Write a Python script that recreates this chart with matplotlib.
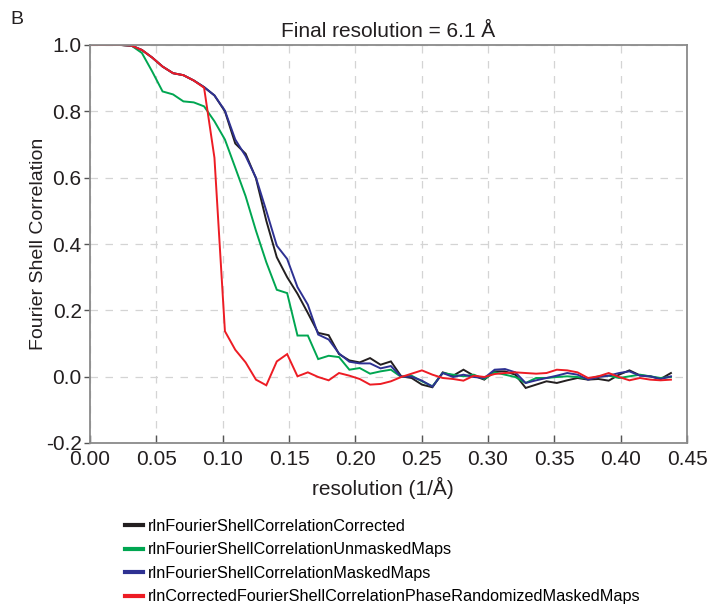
import matplotlib
matplotlib.use("Agg")
import matplotlib.pyplot as plt
from matplotlib.lines import Line2D

plt.rcParams['font.family'] = ['Liberation Sans', 'DejaVu Sans']

resolution = [0.0000, 0.0078, 0.0156, 0.0235, 0.0313, 0.0391, 0.0469, 0.0547,
              0.0626, 0.0704, 0.0782, 0.0860, 0.0938, 0.1017, 0.1095, 0.1173,
              0.1251, 0.1329, 0.1408, 0.1486, 0.1564, 0.1642, 0.1720, 0.1799,
              0.1877, 0.1955, 0.2033, 0.2111, 0.2190, 0.2268, 0.2346, 0.2424,
              0.2502, 0.2581, 0.2659, 0.2737, 0.2815, 0.2893, 0.2972, 0.3050,
              0.3128, 0.3206, 0.3284, 0.3363, 0.3441, 0.3519, 0.3597, 0.3675,
              0.3754, 0.3832, 0.3910, 0.3988, 0.4066, 0.4145, 0.4223, 0.4301,
              0.4379]

fsc_corrected = [1.000, 1.000, 1.000, 1.000, 0.998, 0.985, 0.962, 0.935,
                 0.915, 0.909, 0.893, 0.873, 0.848, 0.800, 0.703, 0.672,
                 0.598, 0.470, 0.360, 0.300, 0.250, 0.192, 0.132, 0.125,
                 0.068, 0.049, 0.043, 0.056, 0.036, 0.046, 0.001, -0.004,
                 -0.024, -0.032, 0.013, 0.003, 0.021, 0.003, -0.009, 0.016,
                 0.016, 0.006, -0.034, -0.024, -0.014, -0.019, -0.011, -0.004,
                 -0.009, -0.007, -0.012, 0.006, 0.019, 0.004, 0.001, -0.007,
                 0.011]

fsc_unmasked = [1.000, 1.000, 1.000, 1.000, 0.998, 0.976, 0.920, 0.860,
                0.851, 0.830, 0.827, 0.815, 0.770, 0.715, 0.630, 0.544,
                0.440, 0.345, 0.262, 0.252, 0.124, 0.124, 0.053, 0.063,
                0.059, 0.021, 0.026, 0.009, 0.016, 0.021, -0.001, 0.003,
                -0.014, -0.029, 0.011, 0.006, 0.001, 0.006, -0.007, 0.013,
                0.006, -0.001, -0.019, -0.004, -0.004, -0.001, 0.001, -0.001,
                -0.007, 0.001, 0.003, -0.004, 0.001, 0.006, 0.001, -0.004,
                -0.001]

fsc_masked = [1.000, 1.000, 1.000, 1.000, 0.998, 0.985, 0.962, 0.935,
              0.915, 0.909, 0.893, 0.873, 0.848, 0.802, 0.715, 0.665,
              0.600, 0.500, 0.395, 0.355, 0.270, 0.217, 0.127, 0.112,
              0.070, 0.045, 0.040, 0.040, 0.025, 0.032, 0.000, 0.000,
              -0.012, -0.030, 0.011, -0.001, 0.006, -0.001, -0.004, 0.021,
              0.023, 0.013, -0.019, -0.011, -0.004, 0.003, 0.011, 0.006,
              -0.009, -0.001, 0.003, 0.011, 0.016, 0.003, 0.001, -0.007,
              0.001]

fsc_phase_rand = [1.000, 1.000, 1.000, 1.000, 0.998, 0.985, 0.962, 0.935,
                  0.915, 0.909, 0.893, 0.871, 0.660, 0.137, 0.081, 0.043,
                  -0.009, -0.026, 0.046, 0.068, 0.001, 0.013, -0.001, -0.011,
                  0.011, 0.003, -0.007, -0.024, -0.022, -0.014, -0.001, 0.009,
                  0.019, 0.006, -0.004, -0.007, -0.012, 0.003, -0.001, 0.008,
                  0.011, 0.013, 0.011, 0.009, 0.011, 0.021, 0.019, 0.013,
                  -0.004, 0.001, 0.011, -0.001, -0.011, -0.004, -0.009, -0.011,
                  -0.009]

series_labels = ['rlnFourierShellCorrelationCorrected',
                 'rlnFourierShellCorrelationUnmaskedMaps',
                 'rlnFourierShellCorrelationMaskedMaps',
                 'rlnCorrectedFourierShellCorrelationPhaseRandomizedMaskedMaps']
series_colors = ['#231f20', '#00a651', '#2e3192', '#ed1c24']

x_ticks = [0.00, 0.05, 0.10, 0.15, 0.20, 0.25, 0.30, 0.35, 0.40, 0.45]
y_ticks = [-0.2, 0.0, 0.2, 0.4, 0.6, 0.8, 1.0]

W, H = 709, 611
fig = plt.figure(figsize=(W / 100, H / 100), dpi=100)
ax = fig.add_axes([90 / W, 1 - 443 / H, (687 - 90) / W, (443 - 45) / H])

for ys, col in zip([fsc_corrected, fsc_unmasked, fsc_masked, fsc_phase_rand], series_colors):
    ax.plot(resolution, ys, color=col, lw=1.4, solid_joinstyle='miter')

ax.set_xlim(0, 0.45)
ax.set_ylim(-0.2, 1.0)
ax.set_xticks(x_ticks)
ax.set_xticklabels([f'{t:.2f}' for t in x_ticks])
ax.set_yticks(y_ticks)
ax.set_yticklabels([f'{t:.1f}' for t in y_ticks])
ax.grid(True, color='#d4d4d4', linestyle=(0, (6, 6)), lw=0.9)
for s in ax.spines.values():
    s.set_color('#8a8a8a')
    s.set_linewidth(1.3)
ax.tick_params(axis='x', direction='in', length=6, width=1, color='#555555',
               labelsize=15, pad=5, labelcolor='#231f20')
ax.tick_params(axis='y', direction='out', length=4, width=1, color='#555555',
               labelsize=15, pad=2, labelcolor='#231f20')

ax.set_xlabel('resolution (1/Å)', fontsize=15, color='#231f20')
ax.xaxis.set_label_coords((383 - 90) / 597, -(499 - 443) / 398)
ax.xaxis.label.set_va('bottom')
ax.set_ylabel('Fourier Shell Correlation', fontsize=14, color='#231f20')
ax.yaxis.set_label_coords((47 - 90) / 597, 0.5)
ax.set_title('Final resolution = 6.1 Å', fontsize=15, color='#231f20', pad=6)
fig.text(10 / W, 1 - 20 / H, 'B', fontsize=14, color='#231f20', va='center', ha='left')

handles = [Line2D([], [], color=c, lw=3) for c in series_colors]
fig.legend(handles, series_labels, loc='upper left',
           bbox_to_anchor=(125 / W, 1 - 519 / H), frameon=False,
           fontsize=11.7, handlelength=1.1, handletextpad=0.3,
           labelspacing=0.52, borderpad=0, borderaxespad=0)

fig.savefig('out.png', dpi=100)
